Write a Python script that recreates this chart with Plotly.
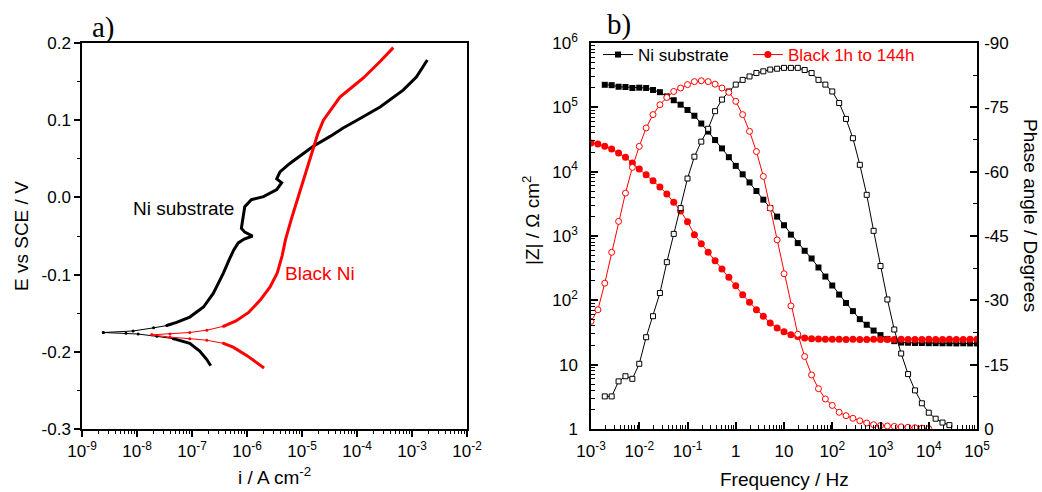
import plotly.graph_objects as go

# ---------------- a) potentiodynamic polarization ----------------
# current density (A cm-2) and potential (V vs SCE), each branch starting at E_corr
ni_anodic_i = [2.45e-9, 8.5e-9, 2.0e-8, 3.47e-8, 5.25e-8, 9.1e-8, 1.62e-7, 2.45e-7, 3.72e-7,
               4.79e-7, 5.75e-7, 6.92e-7, 8.9e-7, 1.26e-6, 9.1e-7, 7.9e-7, 8.5e-7, 9.1e-7,
               1.20e-6, 2.0e-6, 3.47e-6, 4.27e-6, 3.47e-6, 3.98e-6, 6.0e-6, 1.05e-5, 1.58e-5,
               3.24e-5, 5.6e-5, 1.0e-4, 2.63e-4, 6.9e-4, 1.2e-3, 1.9e-3]
ni_anodic_e = [-0.175, -0.173, -0.169, -0.166, -0.162, -0.155, -0.142, -0.124, -0.098,
               -0.080, -0.068, -0.059, -0.054, -0.050, -0.045, -0.040, -0.025, -0.012,
               -0.003, 0.001, 0.010, 0.019, 0.024, 0.033, 0.044, 0.057, 0.066,
               0.079, 0.090, 0.100, 0.117, 0.139, 0.156, 0.178]
ni_cathodic_i = [2.45e-9, 6.3e-9, 1.05e-8, 2.3e-8, 4.57e-8, 9.1e-8, 1.38e-7, 1.86e-7, 2.19e-7]
ni_cathodic_e = [-0.175, -0.176, -0.177, -0.180, -0.183, -0.189, -0.199, -0.210, -0.218]

bn_anodic_i = [1.86e-8, 3.98e-8, 9.1e-8, 1.86e-7, 3.72e-7, 6.3e-7, 1.07e-6, 1.74e-6, 2.63e-6,
               3.55e-6, 4.37e-6, 5.0e-6, 6.6e-6, 8.5e-6, 1.17e-5, 1.58e-5, 1.95e-5, 2.45e-5,
               3.31e-5, 4.9e-5, 7.9e-5, 1.32e-4, 2.63e-4, 4.57e-4]
bn_anodic_e = [-0.178, -0.177, -0.175, -0.172, -0.167, -0.160, -0.149, -0.133, -0.116,
               -0.098, -0.075, -0.055, -0.025, 0.000, 0.030, 0.061, 0.083, 0.100,
               0.113, 0.130, 0.142, 0.155, 0.176, 0.194]
bn_cathodic_i = [1.86e-8, 3.98e-8, 9.1e-8, 1.86e-7, 3.72e-7, 5.6e-7, 1.0e-6, 1.41e-6, 2.04e-6]
bn_cathodic_e = [-0.178, -0.181, -0.183, -0.185, -0.189, -0.194, -0.205, -0.213, -0.221]

i_ticks = [1e-9, 1e-8, 1e-7, 1e-6, 1e-5, 1e-4, 1e-3, 1e-2]
i_ticktext = ["10<sup>-9</sup>", "10<sup>-8</sup>", "10<sup>-7</sup>", "10<sup>-6</sup>",
              "10<sup>-5</sup>", "10<sup>-4</sup>", "10<sup>-3</sup>", "10<sup>-2</sup>"]
e_ticks = [-0.3, -0.2, -0.1, 0.0, 0.1, 0.2]
e_ticktext = ["-0.3", "-0.2", "-0.1", "0.0", "0.1", "0.2"]

# ---------------- b) Bode plots ----------------
freq = [0.001, 0.00139, 0.00193, 0.00268, 0.00373, 0.00518, 0.0072,
        0.01, 0.0139, 0.0193, 0.0268, 0.0373, 0.0518, 0.072,
        0.1, 0.139, 0.193, 0.268, 0.373, 0.518, 0.72,
        1, 1.39, 1.93, 2.68, 3.73, 5.18, 7.2,
        10, 13.9, 19.3, 26.8, 37.3, 51.8, 72,
        100, 139, 193, 268, 373, 518, 720,
        1000, 1390, 1930, 2680, 3730, 5180, 7200,
        10000, 13900, 19300, 26800, 37300, 51800, 72000, 100000]

# Ni substrate was measured from 1.93 mHz upwards
ni_freq = freq[2:]
ni_modz = [2.24e5, 2.21e5, 2.09e5, 2.07e5, 2.0e5, 2.02e5, 2.0e5, 1.86e5, 1.72e5, 1.48e5,
           1.29e5, 1.10e5, 9.1e4, 7.4e4, 5.6e4, 4.2e4, 3.1e4, 2.3e4, 1.68e4, 1.23e4,
           9100, 6800, 5000, 3670, 2720, 2000, 1470, 1050, 776, 589,
           447, 324, 234, 170, 123, 91, 68, 51, 41.7, 33.9,
           28.8, 25.1, 23.2, 22.1, 21.9, 21.7, 21.7, 21.6, 21.6, 21.5,
           21.5, 21.4, 21.5, 21.4, 21.4]
ni_phase = [-7.6, -7.6, -11.1, -12.3, -11.7, -15.2, -21.4, -26.3, -31.7, -38.9,
            -45.5, -51.5, -58.4, -63.5, -67.0, -70.0, -74.1, -76.8, -78.7, -80.3,
            -81.4, -82.2, -83.0, -83.4, -83.8, -84.0, -84.2, -84.2, -84.2, -83.7,
            -83.0, -81.4, -80.3, -78.7, -76.0, -72.3, -67.8, -61.6, -54.6, -46.2,
            -38.0, -30.2, -23.2, -17.6, -12.8, -9.0, -6.0, -3.8, -2.4, -1.5,
            -0.9, None, None, None, None]

bn_modz = [2.79e4, 2.69e4, 2.48e4, 2.25e4, 1.95e4, 1.67e4, 1.36e4, 1.10e4, 8970, 7240,
           5780, 4500, 3350, 2450, 1660, 1050, 759, 558, 413, 307,
           228, 169, 122, 93.3, 71.6, 56.5, 44.5, 37.2, 32.4, 29.2,
           27.5, 26.0, 25.3, 25.0, 24.9, 24.8, 24.8, 24.7, 24.8, 24.7,
           24.7, 24.8, 24.7, 24.7, 24.7, 24.8, 24.7, 24.7, 24.7, 24.8,
           24.7, 24.7, 24.8, 24.7, 24.7, 24.8, 24.8]
bn_phase = [-25.1, -27.8, -34.0, -41.2, -48.4, -55.0, -61.0, -65.9, -70.2, -73.3,
            -75.6, -77.3, -78.7, -79.5, -80.3, -81.0, -81.2, -81.0, -80.4, -79.5,
            -78.5, -76.4, -73.3, -69.4, -64.7, -58.9, -51.5, -44.1, -36.2, -28.7,
            -22.1, -16.9, -12.6, -9.4, -7.0, -5.5, -3.9, -3.1, -2.5, -1.9,
            -1.4, -1.0, -0.8, -0.7, -0.6, -0.5, -0.4, -0.3, -0.2, -0.1,
            None, None, None, None, None, None, None]

f_ticks = [1e-3, 1e-2, 1e-1, 1, 10, 1e2, 1e3, 1e4, 1e5]
f_ticktext = ["10<sup>-3</sup>", "10<sup>-2</sup>", "10<sup>-1</sup>", "1", "10",
              "10<sup>2</sup>", "10<sup>3</sup>", "10<sup>4</sup>", "10<sup>5</sup>"]
z_ticks = [1, 10, 1e2, 1e3, 1e4, 1e5, 1e6]
z_ticktext = ["1", "10", "10<sup>2</sup>", "10<sup>3</sup>", "10<sup>4</sup>",
              "10<sup>5</sup>", "10<sup>6</sup>"]
ph_ticks = [0, -15, -30, -45, -60, -75, -90]
ph_ticktext = ["0", "-15", "-30", "-45", "-60", "-75", "-90"]

RED = "#ff0000"
BLACK = "#000000"
SANS = "Liberation Sans, Arial, sans-serif"
SERIF = "Liberation Serif, Times New Roman, serif"
W, H = 1042, 492


def px_x(p):
    return p / W


def px_y(p):
    return 1 - p / H


fig = go.Figure()


def add_branch(i_vals, e_vals, color, band=0.012):
    """Thin dotted trace close to E_corr, thick trace for the rest of the branch."""
    e0 = e_vals[0]
    n = next(k for k, e in enumerate(e_vals) if abs(e - e0) > band)
    fig.add_trace(go.Scatter(x=i_vals[:n], y=e_vals[:n], mode="lines+markers",
                             line=dict(color=color, width=1), marker=dict(color=color, size=3),
                             showlegend=False, xaxis="x", yaxis="y"))
    fig.add_trace(go.Scatter(x=i_vals[n - 1:], y=e_vals[n - 1:], mode="lines",
                             line=dict(color=color, width=3), showlegend=False,
                             xaxis="x", yaxis="y"))


add_branch(ni_cathodic_i, ni_cathodic_e, BLACK)
add_branch(ni_anodic_i, ni_anodic_e, BLACK)
add_branch(bn_cathodic_i, bn_cathodic_e, RED)
add_branch(bn_anodic_i, bn_anodic_e, RED)

# Bode: phase angle (open symbols, right axis)
fig.add_trace(go.Scatter(x=ni_freq, y=ni_phase, mode="lines+markers", showlegend=False,
                         line=dict(color=BLACK, width=1),
                         marker=dict(symbol="square", size=5, color="white",
                                     line=dict(color=BLACK, width=1)),
                         xaxis="x2", yaxis="y3"))
fig.add_trace(go.Scatter(x=freq, y=bn_phase, mode="lines+markers", showlegend=False,
                         line=dict(color=RED, width=1),
                         marker=dict(symbol="circle", size=6, color="white",
                                     line=dict(color=RED, width=1)),
                         xaxis="x2", yaxis="y3"))
# Bode: impedance modulus (filled symbols, left axis)
fig.add_trace(go.Scatter(x=ni_freq, y=ni_modz, mode="lines+markers",
                         name="Ni substrate&nbsp;&nbsp;&nbsp;",
                         line=dict(color=BLACK, width=1),
                         marker=dict(symbol="square", size=6, color=BLACK),
                         xaxis="x2", yaxis="y2"))
fig.add_trace(go.Scatter(x=freq, y=bn_modz, mode="lines+markers",
                         name="<span style='color:#ff0000'>Black 1h to 144h</span>",
                         line=dict(color=RED, width=1),
                         marker=dict(symbol="circle", size=7, color=RED),
                         xaxis="x2", yaxis="y2"))


def log_minor(e_lo, e_hi):
    return [m * 10.0 ** e for e in range(e_lo, e_hi) for m in range(2, 10)]


dom_a = [px_x(82), px_x(467)]
dom_b = [px_x(591), px_x(977)]
dom_y = [px_y(429), px_y(43)]
tickfont = dict(family=SANS, size=17, color=BLACK)
common = dict(showgrid=False, zeroline=False, showline=True, linecolor=BLACK, linewidth=1.5,
              tickcolor=BLACK, tickwidth=1.5, tickfont=tickfont, automargin=False,
              tickmode="array")

fig.update_layout(
    width=W, height=H, margin=dict(l=0, r=0, t=0, b=0),
    paper_bgcolor="white", plot_bgcolor="white",
    font=dict(family=SANS, color=BLACK),
    xaxis=dict(common, domain=dom_a, anchor="y", type="log", range=[-9, -2],
               tickvals=i_ticks, ticktext=i_ticktext, ticks="outside", ticklen=6, mirror=True,
               minor=dict(tickmode="array", tickvals=log_minor(-9, -2), ticks="outside",
                          ticklen=3, tickcolor=BLACK, tickwidth=1.2, showgrid=False)),
    yaxis=dict(common, domain=dom_y, anchor="x", range=[-0.3, 0.2],
               tickvals=e_ticks, ticktext=e_ticktext, ticks="outside", ticklen=6, mirror=True,
               minor=dict(tickmode="array", tickvals=[-0.25, -0.15, -0.05, 0.05, 0.15],
                          ticks="outside", ticklen=3, tickcolor=BLACK, tickwidth=1.2,
                          showgrid=False)),
    xaxis2=dict(common, domain=dom_b, anchor="y2", type="log", range=[-3, 5],
                tickvals=f_ticks, ticktext=f_ticktext, ticks="inside", ticklen=7, mirror=True,
                ticklabelstandoff=6,
                minor=dict(tickmode="array", tickvals=log_minor(-3, 5), ticks="inside",
                           ticklen=4, tickcolor=BLACK, tickwidth=1.2, showgrid=False)),
    yaxis2=dict(common, domain=dom_y, anchor="x2", type="log", range=[0, 6],
                tickvals=z_ticks, ticktext=z_ticktext, ticks="inside", ticklen=7,
                ticklabelstandoff=8,
                minor=dict(tickmode="array", tickvals=log_minor(0, 6), ticks="inside",
                           ticklen=4, tickcolor=BLACK, tickwidth=1.2, showgrid=False)),
    yaxis3=dict(common, overlaying="y2", anchor="x2", side="right", range=[0, -90],
                tickvals=ph_ticks, ticktext=ph_ticktext, ticks="inside", ticklen=7,
                ticklabelstandoff=2,
                minor=dict(tickmode="array", tickvals=[-7.5, -22.5, -37.5, -52.5, -67.5, -82.5],
                           ticks="inside", ticklen=4, tickcolor=BLACK, tickwidth=1.2,
                           showgrid=False)),
    legend=dict(orientation="h", x=px_x(598), y=px_y(55), xanchor="left", yanchor="middle",
                bgcolor="rgba(0,0,0,0)", font=dict(family=SANS, size=17, color=BLACK)),
)


def note(text, x, y, size=19, color=BLACK, angle=0, family=SANS):
    fig.add_annotation(text=text, x=px_x(x), y=px_y(y), xref="paper", yref="paper",
                       showarrow=False, textangle=angle, xanchor="center", yanchor="middle",
                       font=dict(family=family, size=size, color=color))


note("a)", 103, 27, size=29, family=SERIF)
note("b)", 619, 25, size=29, family=SERIF)
note("Ni substrate", 183, 208)
note("Black Ni", 320, 273, color=RED)
note("E vs SCE / V", 21, 236, angle=-90)
note("i / A cm<sup>-2</sup>", 274, 476)
note("|Z| / \u03a9 cm<sup>2</sup>", 531, 220, angle=-90)
note("Frequency / Hz", 784, 479)
note("Phase angle / Degrees", 1031, 215, angle=90)

fig.write_html("out.html")
